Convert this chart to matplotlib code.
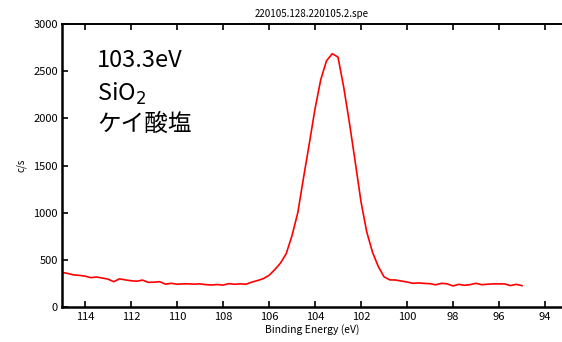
import matplotlib
matplotlib.use("Agg")
import matplotlib.pyplot as plt
import numpy as np

plt.rcParams['font.family'] = ['Noto Sans CJK JP', 'DejaVu Sans']

# ----- Data: Si 2p region, 0.25 eV steps from 115 to 95 eV -----
be_start, be_stop, be_step = 115.0, 95.0, 0.25
counts = [
    372, 360, 345, 340, 332, 316, 322, 312, 300, 273,
    303, 292, 283, 278, 290, 266, 268, 273, 247, 256,
    246, 250, 250, 247, 250, 242, 238, 243, 237, 252,
    246, 250, 246, 268, 285, 305, 340, 400, 470, 570,
    760, 1000, 1370, 1730, 2100, 2410, 2610, 2685, 2650, 2330,
    1950, 1540, 1120, 800, 585, 435, 325, 292, 291, 280,
    270, 256, 260, 255, 252, 240, 256, 250, 228, 245,
    235, 242, 256, 241, 246, 250, 250, 249, 232, 245,
    231,
]
energy = np.arange(be_start, be_stop - be_step / 2, -be_step)

x_ticks = [114, 112, 110, 108, 106, 104, 102, 100, 98, 96, 94]
y_ticks = [0, 500, 1000, 1500, 2000, 2500, 3000]

title = "220105.128.220105.2.spe"
note_lines = ["103.3eV", "SiO$_2$", "ケイ酸塩"]

# ----- Plot -----
fig = plt.figure(figsize=(5.62, 3.42), dpi=100)
ax = fig.add_axes([0.1103, 0.1009, 0.8897, 0.829])

ax.plot(energy, counts, color='red', lw=1.2)

ax.set_xlim(115, 93.26)
ax.set_ylim(0, 3000)
ax.set_xticks(x_ticks)
ax.set_yticks(y_ticks)

ax.tick_params(axis='both', direction='in', length=4, width=1.2,
               labelsize=8, pad=3)
ax.tick_params(axis='x', top=True, bottom=True)
ax.tick_params(axis='y', left=True, right=False)

ax.spines['right'].set_visible(False)
ax.spines['left'].set_linewidth(1.8)
ax.spines['bottom'].set_linewidth(1.8)
ax.spines['top'].set_linewidth(1.4)

ax.set_title(title, fontsize=7, pad=5)
ax.set_xlabel("Binding Energy (eV)", fontsize=7.5, labelpad=2)
ax.set_ylabel("c/s", fontsize=7, labelpad=5)

# peak annotation
for i, line in enumerate(note_lines):
    ax.text(0.07, 0.91 - i * 0.112, line, transform=ax.transAxes,
            fontsize=17, va='top', ha='left')

fig.savefig("out.png", dpi=100)
